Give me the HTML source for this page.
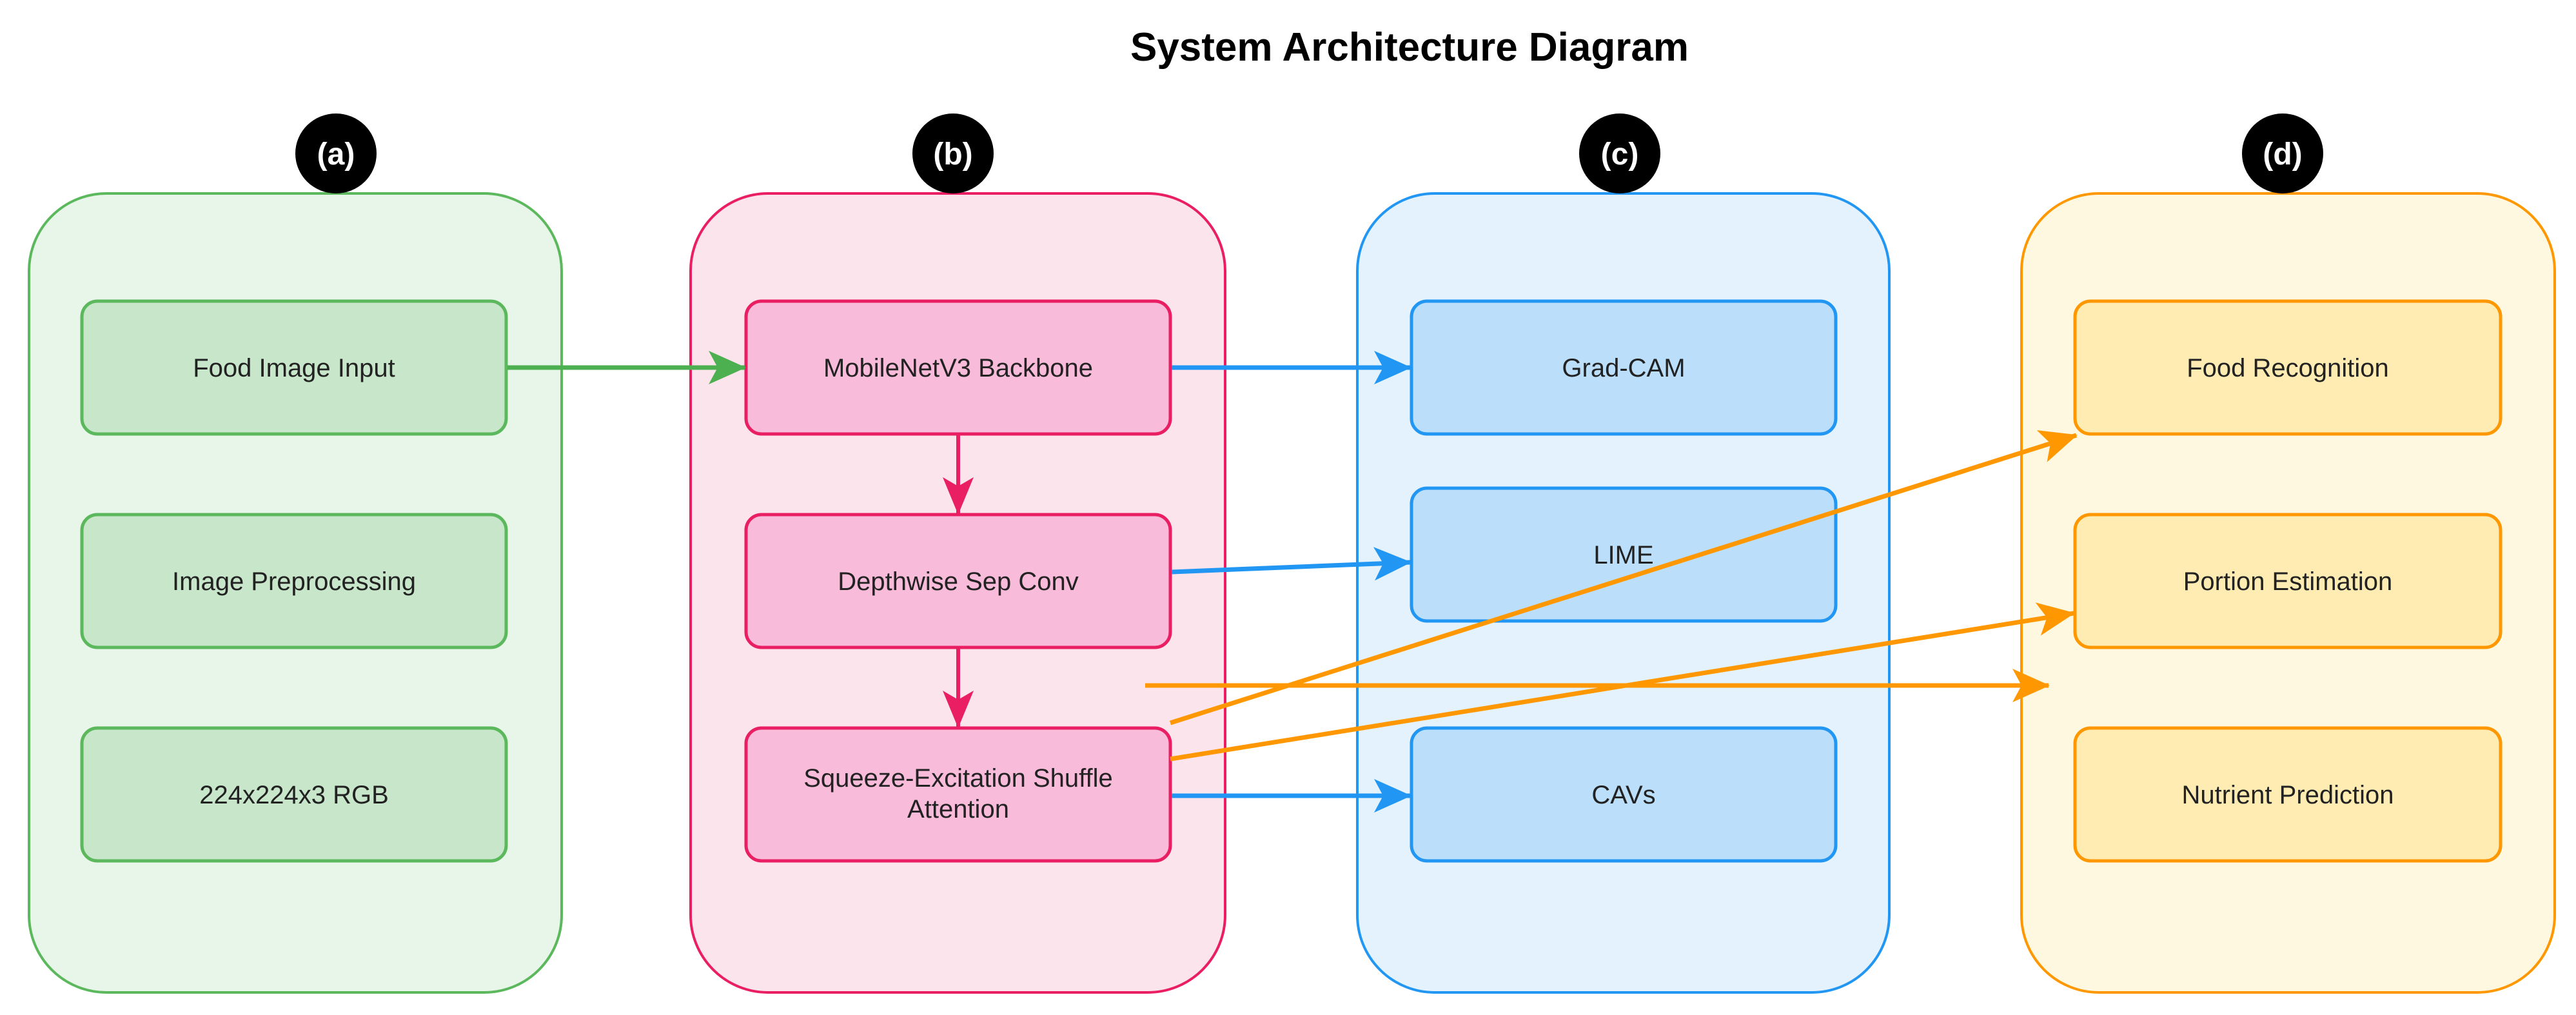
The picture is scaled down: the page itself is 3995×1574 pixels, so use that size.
<!DOCTYPE html>
<html><head><meta charset="utf-8"><style>
html,body{margin:0;padding:0;background:#fff}
svg{display:block}
text{font-family:"Liberation Sans",Arial,sans-serif}
</style></head><body>
<svg width="3995" height="1574" viewBox="0 0 3995 1574" xmlns="http://www.w3.org/2000/svg">
<defs>
<marker id="ab" viewBox="0 0 60 60" refX="56" refY="30" markerWidth="60" markerHeight="60" markerUnits="userSpaceOnUse" orient="auto"><path d="M0,4 L58,30 L0,56 L14,30 z" fill="#2196f3"/></marker>
<marker id="agr" viewBox="0 0 60 60" refX="56" refY="30" markerWidth="60" markerHeight="60" markerUnits="userSpaceOnUse" orient="auto"><path d="M0,4 L58,30 L0,56 L14,30 z" fill="#4caf50"/></marker>
<marker id="ap" viewBox="0 0 60 60" refX="56" refY="30" markerWidth="60" markerHeight="60" markerUnits="userSpaceOnUse" orient="auto"><path d="M0,6 L58,30 L0,54 L14,30 z" fill="#e91e63"/></marker>
<marker id="ao" viewBox="0 0 60 60" refX="56" refY="30" markerWidth="60" markerHeight="60" markerUnits="userSpaceOnUse" orient="auto"><path d="M0,4 L58,30 L0,56 L14,30 z" fill="#ff9800"/></marker>
</defs>
<text x="2186" y="94" font-size="62" font-weight="bold" text-anchor="middle" fill="#000">System Architecture Diagram</text>

<rect x="45" y="300" width="826" height="1239" rx="120" fill="#e8f5e9" stroke="#5cb85c" stroke-width="4"/>
<rect x="1071" y="300" width="829" height="1239" rx="120" fill="#fce4ec" stroke="#e91e63" stroke-width="4"/>
<rect x="2105" y="300" width="825" height="1239" rx="120" fill="#e3f2fd" stroke="#2196f3" stroke-width="4"/>
<rect x="3135" y="300" width="827" height="1239" rx="120" fill="#fff8e1" stroke="#ff9800" stroke-width="4"/>

<g font-size="48" font-weight="bold" fill="#fff" text-anchor="middle">
<ellipse cx="521" cy="238" rx="63" ry="62" fill="#000"/><text x="521" y="255">(a)</text>
<ellipse cx="1478" cy="238" rx="63" ry="62" fill="#000"/><text x="1478" y="255">(b)</text>
<ellipse cx="2512" cy="238" rx="63" ry="62" fill="#000"/><text x="2512" y="255">(c)</text>
<ellipse cx="3540" cy="238" rx="63" ry="62" fill="#000"/><text x="3540" y="255">(d)</text>
</g>

<g stroke-width="5">
<rect x="127" y="467" width="658" height="206" rx="24" fill="#c8e6c9" stroke="#5cb85c"/>
<rect x="127" y="798" width="658" height="206" rx="24" fill="#c8e6c9" stroke="#5cb85c"/>
<rect x="127" y="1129" width="658" height="206" rx="24" fill="#c8e6c9" stroke="#5cb85c"/>
<rect x="1157" y="467" width="658" height="206" rx="24" fill="#f8bbd9" stroke="#e91e63"/>
<rect x="1157" y="798" width="658" height="206" rx="24" fill="#f8bbd9" stroke="#e91e63"/>
<rect x="1157" y="1129" width="658" height="206" rx="24" fill="#f8bbd9" stroke="#e91e63"/>
<rect x="2189" y="467" width="658" height="206" rx="24" fill="#bbdefb" stroke="#2196f3"/>
<rect x="2189" y="757" width="658" height="206" rx="24" fill="#bbdefb" stroke="#2196f3"/>
<rect x="2189" y="1129" width="658" height="206" rx="24" fill="#bbdefb" stroke="#2196f3"/>
<rect x="3218" y="467" width="660" height="206" rx="24" fill="#ffecb3" stroke="#ff9800"/>
<rect x="3218" y="798" width="660" height="206" rx="24" fill="#ffecb3" stroke="#ff9800"/>
<rect x="3218" y="1129" width="660" height="206" rx="24" fill="#ffecb3" stroke="#ff9800"/>
</g>

<g font-size="40" fill="#222" text-anchor="middle">
<text x="456" y="584">Food Image Input</text>
<text x="456" y="915">Image Preprocessing</text>
<text x="456" y="1246">224x224x3 RGB</text>
<text x="1486" y="584">MobileNetV3 Backbone</text>
<text x="1486" y="915">Depthwise Sep Conv</text>
<text x="1486" y="1220">Squeeze-Excitation Shuffle</text>
<text x="1486" y="1268">Attention</text>
<text x="2518" y="584">Grad-CAM</text>
<text x="2518" y="874">LIME</text>
<text x="2518" y="1246">CAVs</text>
<text x="3548" y="584">Food Recognition</text>
<text x="3548" y="915">Portion Estimation</text>
<text x="3548" y="1246">Nutrient Prediction</text>
</g>

<g stroke-width="7" fill="none">
<line x1="787" y1="570" x2="1155" y2="570" stroke="#4caf50" marker-end="url(#agr)"/>
<line x1="1817" y1="570" x2="2187" y2="570" stroke="#2196f3" marker-end="url(#ab)"/>
<line x1="1817" y1="887" x2="2187" y2="872" stroke="#2196f3" marker-end="url(#ab)"/>
<line x1="1817" y1="1234" x2="2187" y2="1234" stroke="#2196f3" marker-end="url(#ab)"/>
<line x1="1486" y1="675" x2="1486" y2="796" stroke="#e91e63" stroke-width="6" marker-end="url(#ap)"/>
<line x1="1486" y1="1006" x2="1486" y2="1127" stroke="#e91e63" stroke-width="6" marker-end="url(#ap)"/>
<line x1="1815" y1="1121" x2="3220" y2="675" stroke="#ff9800" marker-end="url(#ao)"/>
<line x1="1815" y1="1177" x2="3216" y2="951" stroke="#ff9800" marker-end="url(#ao)"/>
<line x1="1776" y1="1063" x2="3177" y2="1063" stroke="#ff9800" marker-end="url(#ao)"/>
</g>
</svg>
</body></html>
